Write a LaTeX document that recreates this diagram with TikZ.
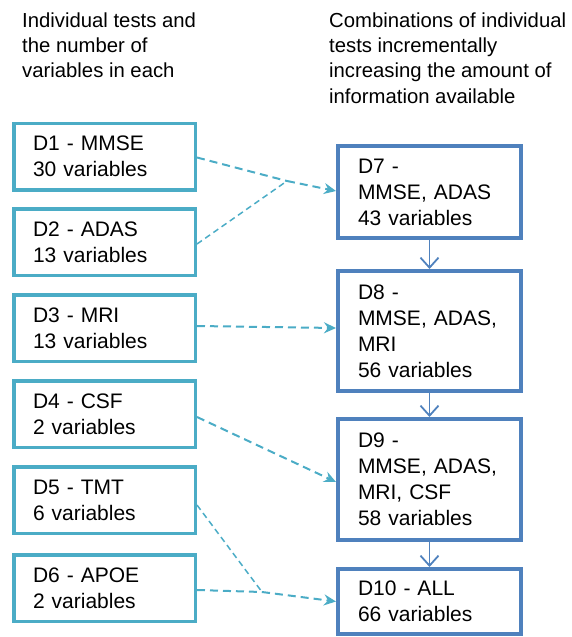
\documentclass[tikz,border=0pt]{standalone}
\usepackage{fontspec}
\setmainfont{Liberation Sans}
\usetikzlibrary{arrows.meta}
\definecolor{tealc}{HTML}{4BACC6}
\definecolor{bluec}{HTML}{4F81BD}
\tikzset{
  leftbox/.style={draw=tealc, line width=3.5pt, fill=white, text width=143pt, inner xsep=19.25pt, inner ysep=0pt,
    minimum height=66.5pt, align=left, font=\fontsize{21}{26}\selectfont},
  rightbox/.style={draw=bluec, line width=4pt, fill=white, text width=143pt, inner xsep=20pt, inner ysep=0pt,
    align=left, font=\fontsize{21}{26}\selectfont},
  header/.style={anchor=north west, inner sep=0pt, align=left, font=\fontsize{20.3}{25.3}\selectfont},
  dashconn/.style={draw=tealc, line width=2pt, dash pattern=on 8pt off 5pt},
  thinconn/.style={draw=tealc, line width=1.5pt, dash pattern=on 6pt off 4pt},
  dashtip/.style={-{Stealth[length=12pt,width=11pt,inset=4pt]}},
  downarrow/.style={draw=bluec, line width=1.8pt, -{Straight Barb[length=10pt,width=18pt,line width=1.8pt]}}
}
\begin{document}
\begin{tikzpicture}[x=1pt,y=-1pt]
\useasboundingbox (0,0) rectangle (571,637);
\node[header] (hl) at (22,12.3) {Individual tests and\\the number of\\variables in each};
\node[header] (hr) at (329,12.3) {Combinations of individual\\tests incrementally\\increasing the amount of\\information available};

\node[leftbox] (d1) at (104.5,156.5) {D1 - MMSE\\30 variables};
\node[leftbox] (d2) at (104.5,242) {D2 - ADAS\\13 variables};
\node[leftbox] (d3) at (104.5,328) {D3 - MRI\\13 variables};
\node[leftbox] (d4) at (104.5,414) {D4 - CSF\\2 variables};
\node[leftbox] (d5) at (104.5,500) {D5 - TMT\\6 variables};
\node[leftbox] (d6) at (104.5,588) {D6 - APOE\\2 variables};

\node[rightbox, minimum height=92pt] (d7) at (429.5,192) {D7 -\\MMSE, ADAS\\43 variables};
\node[rightbox, minimum height=120pt] (d8) at (429.5,331) {D8 -\\MMSE, ADAS,\\MRI\\56 variables};
\node[rightbox, minimum height=121pt] (d9) at (429.5,479.5) {D9 -\\MMSE, ADAS,\\MRI, CSF\\58 variables};
\node[rightbox, minimum height=65pt] (d10) at (429.5,601.5) {D10 - ALL\\66 variables};

\coordinate (j1) at (287,181);
\coordinate (j2) at (262,592);

\draw[dashconn] ([yshift=-1pt]d1.east) -- (j1);
\draw[dashconn, dashtip] (j1) -- ([yshift=1pt]d7.west);
\draw[thinconn] ([yshift=-2pt]d2.east) -- (j1);
\draw[dashconn, dashtip] ([yshift=2pt]d3.east) -- (d3.east -| d8.west);
\draw[dashconn, dashtip] ([yshift=-3pt]d4.east) -- ([yshift=-2.5pt]d9.west);
\draw[thinconn] ([yshift=-5pt]d5.east) -- (j2);
\draw[dashconn] ([yshift=-2pt]d6.east) -- (j2);
\draw[dashconn, dashtip] (j2) -- (d10.west);

\draw[downarrow] (d7.south) -- (d8.north);
\draw[downarrow] (d8.south) -- (d9.north);
\draw[downarrow] (d9.south) -- (d10.north);
\end{tikzpicture}
\end{document}
